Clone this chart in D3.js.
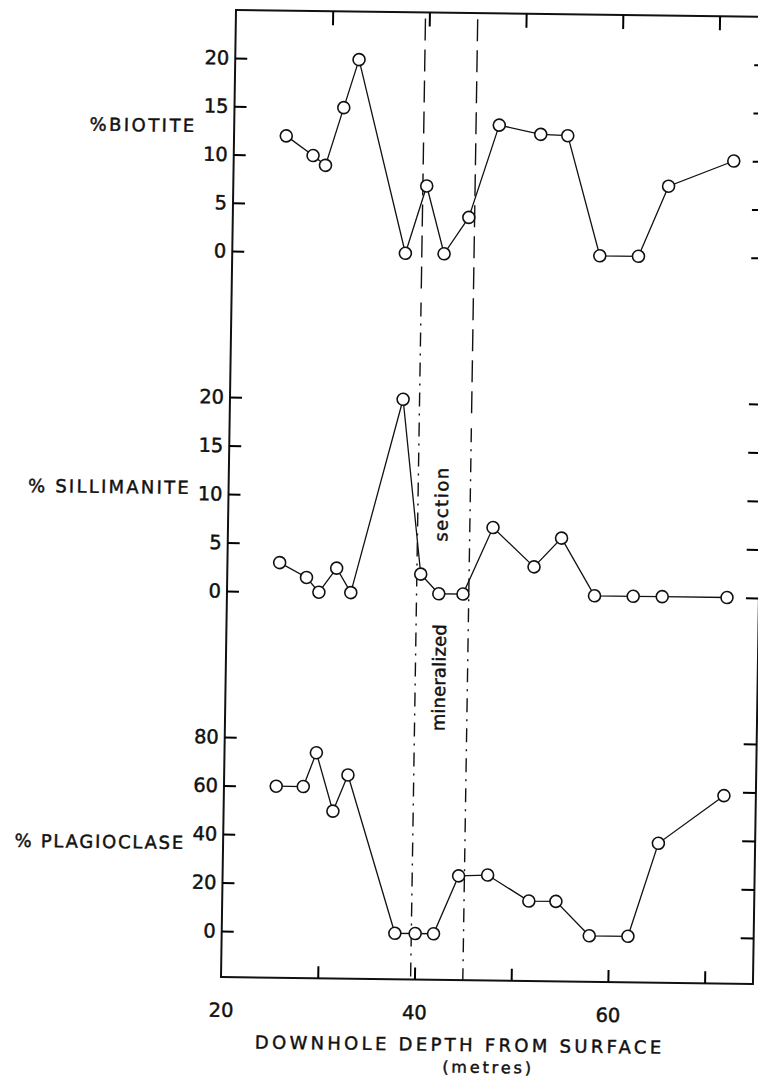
<!DOCTYPE html>
<html>
<head>
<meta charset="utf-8">
<script src="https://cdn.jsdelivr.net/npm/d3@7"></script>
<style>
  body { margin: 0; background: #fff; }
  text { font-family: "DejaVu Sans", sans-serif; fill: #111; stroke: #111; stroke-width: 0.45px; }
</style>
</head>
<body>
<svg id="chart" width="758" height="1078"></svg>
<script>
// downhole depth (m) of each sample
const depths = [25.4, 28.2, 29.5, 31.3, 32.8, 37.9, 40.0, 41.9, 44.4, 47.4, 51.7, 54.5, 58.0, 62.0, 65.0, 71.7];
const biotite = [12, 10, 9, 15, 20, 0, 7, 0, 3.8, 13.4, 12.5, 12.4, 0, 0, 7.3, 10];
const sillimanite = [3, 1.5, 0, 2.5, 0, 20, 2, 0, 0, 6.9, 2.9, 5.9, 0, 0, 0, 0];
const plagioclase = [60, 60, 74, 50, 65, 0, 0, 0, 24, 24.5, 14, 14, 0, 0, 38.5, 58.5];

const biotiteTicks = [0, 5, 10, 15, 20];
const sillimaniteTicks = [0, 5, 10, 15, 20];
const plagioclaseTicks = [0, 20, 40, 60, 80];
const depthTicks = [30, 40, 50, 60, 70];
const depthLabels = [20, 40, 60];
// edges of the mineralized section
const sectionBounds = [39.6, 45.0];

const W = 533, H = 967;
const svg = d3.select('#chart');

// the scanned page is slightly skewed, so the whole frame is too
const g = svg.append('g')
  .attr('transform', 'matrix(0.998,0.013,-0.0155,1,236,10)');

const x = d3.scaleLinear().domain([20, 75]).range([0, W]);

const panels = [
  { label: '%BIOTITE', values: biotite, ticks: biotiteTicks,
    y: d3.scaleLinear().domain([0, 20]).range([241, 48]), labelV: 116, labelLen: 105 },
  { label: '% SILLIMANITE', values: sillimanite, ticks: sillimaniteTicks,
    y: d3.scaleLinear().domain([0, 20]).range([581, 387]), labelV: 478, labelLen: 161 },
  { label: '% PLAGIOCLASE', values: plagioclase, ticks: plagioclaseTicks,
    y: d3.scaleLinear().domain([0, 80]).range([921, 727]), labelV: 833, labelLen: 169 }
];

// frame
g.append('rect')
  .attr('width', W).attr('height', H)
  .attr('fill', 'none').attr('stroke', '#111').attr('stroke-width', 2);

// top and bottom ticks
g.append('g')
  .call(d3.axisTop(x).tickValues(depthTicks).tickSizeInner(-14).tickSizeOuter(0).tickFormat(''))
  .call(a => a.select('.domain').remove());
g.append('g')
  .attr('transform', `translate(0,${H})`)
  .call(d3.axisBottom(x).tickValues(depthTicks).tickSizeInner(-12).tickSizeOuter(0).tickFormat(''))
  .call(a => a.select('.domain').remove());
g.append('g')
  .attr('transform', `translate(0,${H})`)
  .call(d3.axisBottom(x).tickValues(depthLabels).tickSize(0).tickPadding(26).tickFormat(d3.format('d')))
  .call(a => a.select('.domain').remove())
  .selectAll('text').attr('font-size', 19.5).attr('font-family', 'DejaVu Sans');

g.selectAll('.tick line').attr('stroke-width', 2);

// mineralized section boundaries: long dashes at the top, dash-dot lower down
const boundaryBreaks = [282, 407];
sectionBounds.forEach((d, i) => {
  g.append('line')
    .attr('x1', x(d)).attr('x2', x(d))
    .attr('y1', 6).attr('y2', boundaryBreaks[i])
    .attr('stroke', '#111').attr('stroke-width', 1.4)
    .attr('stroke-dasharray', '22,9');
  g.append('line')
    .attr('x1', x(d)).attr('x2', x(d))
    .attr('y1', boundaryBreaks[i] + 8).attr('y2', H)
    .attr('stroke', '#111').attr('stroke-width', 1.4)
    .attr('stroke-dasharray', '14,7,2,7');
});

panels.forEach(p => {
  const left = g.append('g')
    .call(d3.axisLeft(p.y).tickValues(p.ticks).tickSizeInner(-12).tickSizeOuter(0).tickPadding(6));
  left.select('.domain').remove();
  left.selectAll('line').attr('stroke-width', 2);
  left.selectAll('text').attr('font-size', 19.5).attr('font-family', 'DejaVu Sans');

  const right = g.append('g')
    .attr('transform', `translate(${W},0)`)
    .call(d3.axisRight(p.y).tickValues(p.ticks).tickSizeInner(-13).tickSizeOuter(0).tickFormat(''));
  right.select('.domain').remove();
  right.selectAll('line').attr('stroke-width', 2);

  g.append('text')
    .attr('x', -40).attr('y', p.labelV)
    .attr('text-anchor', 'end')
    .attr('dominant-baseline', 'central')
    .attr('font-size', 18)
    .attr('textLength', p.labelLen)
    .attr('lengthAdjust', 'spacing')
    .text(p.label);

  const pts = depths.map((d, i) => ({ depth: d, value: p.values[i] }));
  const line = d3.line().x(d => x(d.depth)).y(d => p.y(d.value));

  g.append('path')
    .datum(pts)
    .attr('d', line)
    .attr('fill', 'none')
    .attr('stroke', '#111')
    .attr('stroke-width', 1.3);

  g.selectAll(null)
    .data(pts)
    .enter()
    .append('circle')
    .attr('cx', d => x(d.depth))
    .attr('cy', d => p.y(d.value))
    .attr('r', 6)
    .attr('fill', '#fff')
    .attr('stroke', '#111')
    .attr('stroke-width', 1.6);
});

// vertical note between the boundaries
[['section', 492, 74], ['mineralized', 665, 107]].forEach(([t, v, len]) => {
  g.append('text')
    .attr('transform', `translate(220,${v}) rotate(-90)`)
    .attr('text-anchor', 'middle')
    .attr('font-size', 18)
    .attr('textLength', len)
    .attr('lengthAdjust', 'spacing')
    .text(t);
});

// axis title
g.append('text')
  .attr('x', 238.5).attr('y', 1031.5)
  .attr('text-anchor', 'middle')
  .attr('dominant-baseline', 'central')
  .attr('font-size', 18)
  .attr('textLength', 407)
  .attr('lengthAdjust', 'spacing')
  .text('DOWNHOLE DEPTH FROM SURFACE');
g.append('text')
  .attr('x', 267.5).attr('y', 1054)
  .attr('text-anchor', 'middle')
  .attr('dominant-baseline', 'central')
  .attr('font-size', 16)
  .attr('textLength', 89)
  .attr('lengthAdjust', 'spacing')
  .text('(metres)');
</script>
</body>
</html>
